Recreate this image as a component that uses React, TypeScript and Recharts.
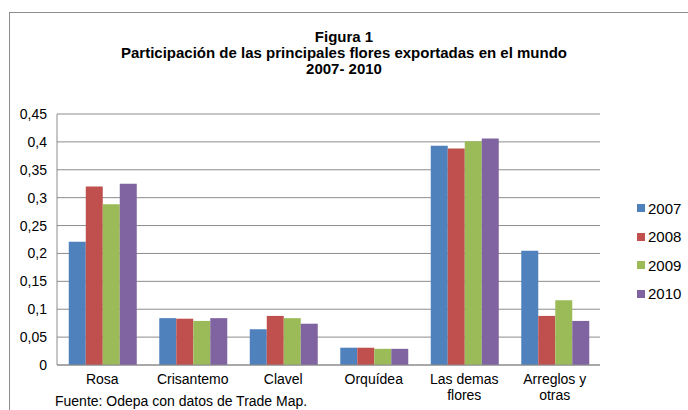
import React from 'react';
import { BarChart, Bar, XAxis, YAxis, CartesianGrid } from 'recharts';

const categories = ['Rosa', 'Crisantemo', 'Clavel', 'Orquídea', 'Las demas\nflores', 'Arreglos y\notras'];
const s2007 = [0.221, 0.084, 0.064, 0.031, 0.393, 0.205];
const s2008 = [0.32, 0.083, 0.088, 0.031, 0.388, 0.088];
const s2009 = [0.288, 0.079, 0.084, 0.029, 0.401, 0.116];
const s2010 = [0.325, 0.084, 0.074, 0.029, 0.406, 0.079];
const yTicks = [0, 0.05, 0.1, 0.15, 0.2, 0.25, 0.3, 0.35, 0.4, 0.45];
const seriesNames = ['2007', '2008', '2009', '2010'];
const seriesColors = ['#4F81BD', '#C0504D', '#9BBB59', '#8064A2'];

const data = categories.map((c, i) => ({
  name: c,
  '2007': s2007[i],
  '2008': s2008[i],
  '2009': s2009[i],
  '2010': s2010[i],
}));

const FONT = '"Liberation Sans", Arial, sans-serif';

const CatTick = (props: any) => {
  const { x, y, payload } = props;
  const lines = String(payload.value).split('\n');
  return (
    <text x={x} y={y} textAnchor="middle" fontSize={14} fontFamily={FONT} fill="#000">
      {lines.map((l: string, i: number) => (
        <tspan key={i} x={x} dy={i === 0 ? '0.71em' : 16}>{l}</tspan>
      ))}
    </text>
  );
};

export default function App() {
  return (
    <div style={{ position: 'absolute', left: 0, top: 0, width: 688, height: 410, background: '#fff', overflow: 'hidden', fontFamily: FONT }}>
      <div style={{ position: 'absolute', left: 9, top: 12, width: 679, height: 398, borderTop: '1px solid #8c8c8c', borderLeft: '1px solid #8c8c8c' }} />
      <div style={{ position: 'absolute', left: 0, top: 29, width: 688, textAlign: 'center', fontWeight: 'bold', fontSize: 15, lineHeight: '16px', color: '#000' }}>
        <div>Figura 1</div>
        <div>Participación de las principales flores exportadas en el mundo</div>
        <div>2007- 2010</div>
      </div>
      <div style={{ position: 'absolute', left: 0, top: 0 }}>
        <BarChart
          width={688}
          height={410}
          data={data}
          margin={{ top: 114, right: 88, bottom: 15, left: 0 }}
          barCategoryGap="13%"
          barGap={0}
        >
          <CartesianGrid vertical={false} stroke="#8c8c8c" strokeWidth={1} />
          <XAxis
            dataKey="name"
            tick={<CatTick />}
            tickLine={false}
            axisLine={{ stroke: '#8c8c8c' }}
            interval={0}
            tickMargin={3}
            height={30}
          />
          <YAxis
            width={57}
            domain={[0, 0.45]}
            ticks={yTicks}
            tickFormatter={(v: number) => String(Math.round(v * 100) / 100).replace('.', ',')}
            tick={{ fontSize: 14, fill: '#000', fontFamily: FONT }}
            tickLine={false}
            axisLine={{ stroke: '#8c8c8c' }}
            tickMargin={4}
            interval={0}
          />
          {seriesNames.map((n, i) => (
            <Bar key={n} dataKey={n} fill={seriesColors[i]} isAnimationActive={false} />
          ))}
        </BarChart>
      </div>
      <div style={{ position: 'absolute', left: 637, top: 194, fontSize: 15, color: '#000' }}>
        {seriesNames.map((n, i) => (
          <div key={n} style={{ display: 'flex', alignItems: 'center', height: 28.5 }}>
            <span style={{ display: 'inline-block', width: 8, height: 8, background: seriesColors[i], marginRight: 3 }} />
            <span>{n}</span>
          </div>
        ))}
      </div>
      <div style={{ position: 'absolute', left: 55, top: 393, fontSize: 14, color: '#000', whiteSpace: 'nowrap' }}>
        Fuente: Odepa con datos de Trade Map.
      </div>
    </div>
  );
}
